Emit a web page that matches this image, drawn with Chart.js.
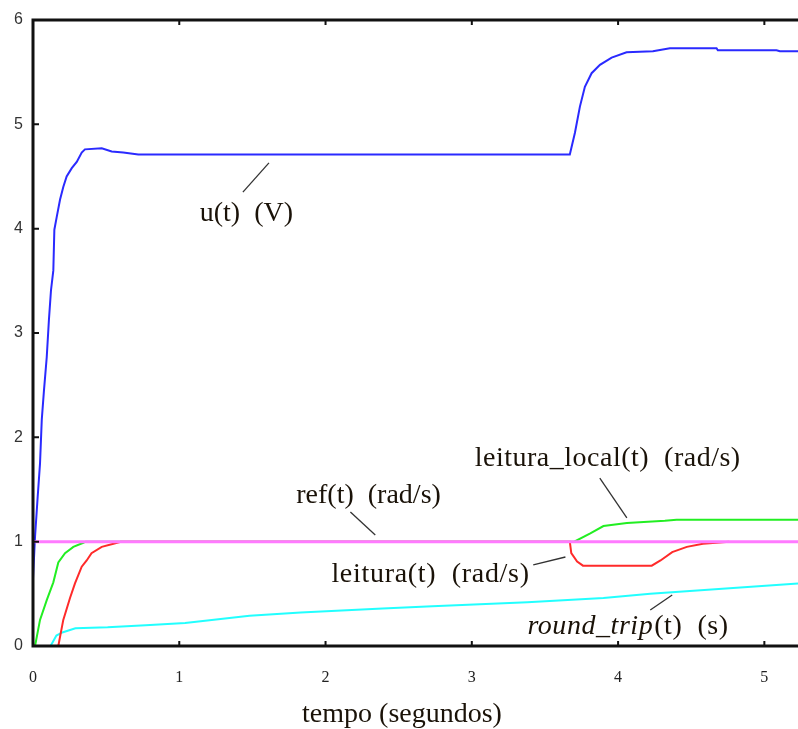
<!DOCTYPE html>
<html>
<head>
<meta charset="utf-8">
<script src="https://cdn.jsdelivr.net/npm/chart.js@4.4.1/dist/chart.umd.min.js"></script>
<style>
  html, body { margin: 0; padding: 0; background: #fff; }
  #wrap { width: 798px; height: 729px; }
</style>
</head>
<body>
<div id="wrap"><canvas id="myChart" width="798" height="729"></canvas></div>
<script>
// values (time in seconds)
const xTicks = [0, 1, 2, 3, 4, 5];
const yTicks = [0, 1, 2, 3, 4, 5, 6];

const uTime = [0, 0.014, 0.032, 0.048, 0.06, 0.075, 0.094, 0.109, 0.123, 0.139, 0.146, 0.162, 0.185, 0.207, 0.23, 0.265, 0.299, 0.333, 0.355, 0.47, 0.538, 0.617, 0.72, 3.67, 3.705, 3.739, 3.773, 3.819, 3.876, 3.956, 4.058, 4.238, 4.354, 4.673, 4.682, 5.083, 5.106, 5.23];
const uVolt = [0.65, 1.05, 1.43, 1.75, 2.17, 2.45, 2.77, 3.13, 3.41, 3.6, 3.99, 4.11, 4.28, 4.40, 4.5, 4.58, 4.64, 4.73, 4.76, 4.77, 4.74, 4.73, 4.71, 4.71, 4.92, 5.17, 5.36, 5.49, 5.57, 5.64, 5.69, 5.70, 5.73, 5.73, 5.71, 5.71, 5.70, 5.70];

const refTime = [0, 5.23];
const refVal = [1, 1];

const localTime = [0.014, 0.048, 0.094, 0.139, 0.173, 0.219, 0.276, 0.344, 0.36, 3.70, 3.81, 3.90, 4.06, 4.32, 4.40, 5.23];
const localVal = [0, 0.25, 0.44, 0.61, 0.8, 0.89, 0.95, 0.99, 1.0, 1.0, 1.08, 1.15, 1.18, 1.20, 1.21, 1.21];

const leituraTime = [0.173, 0.207, 0.253, 0.287, 0.333, 0.367, 0.40, 0.47, 0.55, 0.60, 3.67, 3.68, 3.72, 3.76, 4.23, 4.29, 4.37, 4.47, 4.58, 4.76];
const leituraVal = [0, 0.25, 0.46, 0.6, 0.76, 0.82, 0.89, 0.95, 0.98, 1.0, 1.0, 0.89, 0.81, 0.77, 0.77, 0.82, 0.90, 0.95, 0.98, 1.0];

const rtTime = [0.12, 0.16, 0.20, 0.29, 0.51, 0.77, 1.04, 1.48, 1.83, 2.39, 2.73, 3.38, 3.9, 4.22, 5.23];
const rtVal = [0, 0.10, 0.13, 0.17, 0.18, 0.20, 0.22, 0.29, 0.32, 0.36, 0.38, 0.42, 0.46, 0.50, 0.60];

const xTitle = 'tempo (segundos)';

function pts(xs, ys) {
  return xs.map((x, i) => ({ x: x, y: ys[i] }));
}

// text labels with their leader lines, in data units
const notes = [
  { text: 'u(t)  (V)', x: 1.14, y: 4.07, sp: 0, line: [1.435, 4.35, 1.613, 4.63] },
  { text: 'ref(t)  (rad/s)', x: 1.80, y: 1.37, sp: 0, line: [2.17, 1.285, 2.34, 1.064] },
  { text: 'leitura_local(t)  (rad/s)', x: 3.02, y: 1.73, sp: 0.5, line: [3.875, 1.61, 4.06, 1.227] },
  { text: 'leitura(t)  (rad/s)', x: 2.04, y: 0.61, sp: 0.7, line: [3.42, 0.777, 3.64, 0.853] },
  { italic: 'round_trip', text: '(t)  (s)', x: 3.38, y: 0.115, sp: 0.55, line: [4.22, 0.345, 4.37, 0.489] }
];

const framePlugin = {
  id: 'frame',
  afterDatasetsDraw(chart) {
    const ctx = chart.ctx;
    const a = chart.chartArea;
    const xs = chart.scales.x, ys = chart.scales.y;
    ctx.save();
    // leader lines + labels
    ctx.strokeStyle = '#333';
    ctx.lineWidth = 1.3;
    ctx.fillStyle = '#1a1208';
    ctx.textBaseline = 'alphabetic';
    ctx.textAlign = 'left';
    notes.forEach(n => {
      ctx.beginPath();
      ctx.moveTo(xs.getPixelForValue(n.line[0]), ys.getPixelForValue(n.line[1]));
      ctx.lineTo(xs.getPixelForValue(n.line[2]), ys.getPixelForValue(n.line[3]));
      ctx.stroke();
      ctx.letterSpacing = n.sp + 'px';
      let px = xs.getPixelForValue(n.x);
      const py = ys.getPixelForValue(n.y);
      if (n.italic) {
        ctx.font = 'italic 28px "Liberation Serif"';
        ctx.fillText(n.italic, px, py);
        px += ctx.measureText(n.italic).width + 1;
      }
      ctx.font = '28px "Liberation Serif"';
      ctx.fillText(n.text, px, py);
    });
    ctx.letterSpacing = '0px';
    // axis title
    ctx.textAlign = 'center';
    ctx.font = '28px "Liberation Serif"';
    ctx.fillText(xTitle, 402, chart.height - 7);
    // axes box
    ctx.strokeStyle = '#111';
    ctx.lineWidth = 3;
    ctx.beginPath();
    ctx.moveTo(chart.width + 2, a.top);
    ctx.lineTo(a.left, a.top);
    ctx.lineTo(a.left, a.bottom);
    ctx.lineTo(chart.width + 2, a.bottom);
    ctx.stroke();
    // inward ticks
    ctx.lineWidth = 2;
    ctx.beginPath();
    xTicks.forEach(v => {
      const p = xs.getPixelForValue(v);
      ctx.moveTo(p, a.bottom); ctx.lineTo(p, a.bottom - 5);
      ctx.moveTo(p, a.top); ctx.lineTo(p, a.top + 5);
    });
    yTicks.forEach(v => {
      const p = ys.getPixelForValue(v);
      ctx.moveTo(a.left, p); ctx.lineTo(a.left + 6, p);
    });
    ctx.stroke();
    ctx.restore();
  }
};

const ctx = document.getElementById('myChart').getContext('2d');

const myChart = new Chart(ctx, {
  type: 'line',
  data: {
    datasets: [
      { label: 'ref(t)', data: pts(refTime, refVal), borderColor: '#ff7aff', borderWidth: 3 },
      { label: 'u(t)', data: pts(uTime, uVolt), borderColor: '#2a2aff', borderWidth: 2 },
      { label: 'leitura_local(t)', data: pts(localTime, localVal), borderColor: '#22ee22', borderWidth: 2 },
      { label: 'leitura(t)', data: pts(leituraTime, leituraVal), borderColor: '#ff2a2a', borderWidth: 2 },
      { label: 'round_trip(t)', data: pts(rtTime, rtVal), borderColor: '#22ffff', borderWidth: 2 }
    ]
  },
  options: {
    responsive: false,
    animation: false,
    devicePixelRatio: 1,
    layout: { padding: { top: 20, left: 0, right: 0, bottom: 0 } },
    elements: { point: { radius: 0 }, line: { tension: 0 } },
    plugins: { legend: { display: false }, tooltip: { enabled: false } },
    scales: {
      x: {
        type: 'linear',
        min: 0,
        max: 5.23,
        afterFit: s => { s.height = 83; },
        grid: { display: false, drawTicks: false },
        border: { display: false },
        ticks: {
          stepSize: 1,
          includeBounds: false,
          padding: 22,
          maxRotation: 0,
          color: '#222',
          font: { family: 'Liberation Serif', size: 16 }
        }
      },
      y: {
        min: 0,
        max: 6,
        afterFit: s => { s.width = 33; },
        grid: { display: false, drawTicks: false },
        border: { display: false },
        ticks: {
          stepSize: 1,
          padding: 10,
          color: '#333',
          font: { family: 'Liberation Sans', size: 16 }
        }
      }
    }
  },
  plugins: [framePlugin]
});
</script>
</body>
</html>
